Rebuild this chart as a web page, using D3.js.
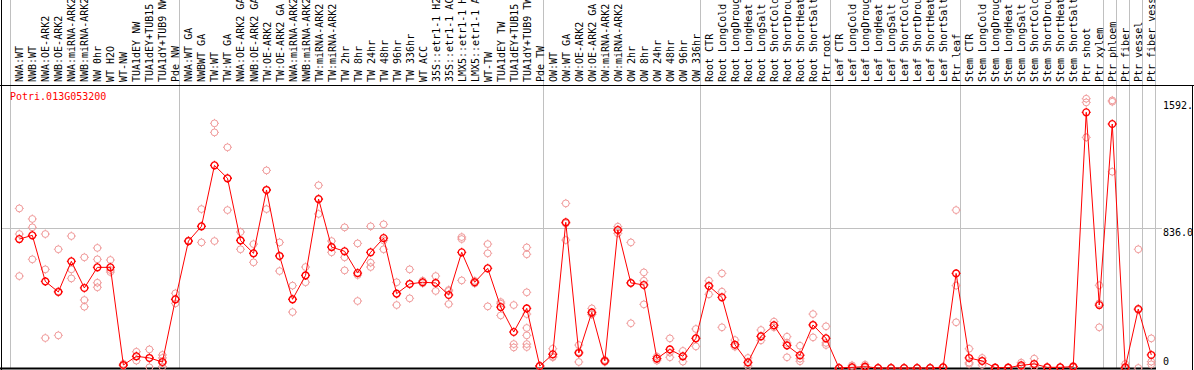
<!DOCTYPE html>
<html>
<head>
<meta charset="utf-8">
<script src="https://cdn.jsdelivr.net/npm/d3@7"></script>
<style>
  html, body { margin: 0; padding: 0; background: #fff; }
  svg { display: block; }
  text { font-family: "DejaVu Sans Mono", monospace; font-size: 10px; }
</style>
</head>
<body>
<div id="chart"></div>
<script>
const samples = [
  "NWA:WT", "NWB:WT", "NWA:OE-ARK2", "NWB:OE-ARK2", "NWA:miRNA-ARK2", "NWB:miRNA-ARK2",
  "NW 0hr", "WT H2O", "WT-NW", "TUA1dEY NW", "TUA1dEY+TUB15", "TUA1dY+TUB9 NW", "Pde NW",
  "NWA:WT GA", "NWBWT GA", "TW:WT", "TW:WT GA", "NWA:OE-ARK2 GA", "NWB:OE-ARK2 GA",
  "TW:OE-ARK2", "TW:OE-ARK2 GA", "NWA:miRNA-ARK2", "NWB:miRNA-ARK2", "TW:miRNA-ARK2",
  "TW:miRNA-ARK2", "TW 2hr", "TW 8hr", "TW 24hr", "TW 48hr", "TW 96hr", "TW 336hr", "WT ACC",
  "35S::etr1-1 H2O", "35S::etr1-1 ACC", "LMX5::etr1-1 H2O", "LMX5::etr1-1 ACC", "WT-TW",
  "TUA1dEY TW", "TUA1dEY+TUB15", "TUA1dY+TUB9 TW", "Pde TW",
  "OW:WT", "OW:WT GA", "OW:OE-ARK2", "OW:OE-ARK2 GA", "OW:miRNA-ARK2", "OW:miRNA-ARK2",
  "OW 2hr", "OW 8hr", "OW 24hr", "OW 48hr", "OW 96hr", "OW 336hr",
  "Root CTR", "Root LongCold", "Root LongDrought", "Root LongHeat", "Root LongSalt",
  "Root ShortCold", "Root ShortDrought", "Root ShortHeat", "Root ShortSalt", "Ptr root",
  "Leaf CTR", "Leaf LongCold", "Leaf LongDrought", "Leaf LongHeat", "Leaf LongSalt",
  "Leaf ShortCold", "Leaf ShortDrought", "Leaf ShortHeat", "Leaf ShortSalt", "Ptr leaf",
  "Stem CTR", "Stem LongCold", "Stem LongDrought", "Stem LongHeat", "Stem LongSalt",
  "Stem ShortCold", "Stem ShortDrought", "Stem ShortHeat", "Stem ShortSalt",
  "Ptr shoot", "Ptr xylem", "Ptr phloem", "Ptr fiber", "Ptr vessel", "Ptr fiber vessel"
];

const means = [
  770, 792, 517, 454, 637, 478, 601, 601, 18, 70, 60, 36, 410,
  758, 846, 1210, 1133, 762, 685, 1063, 669, 410, 553, 1009, 722, 697, 567, 691, 776,
  444, 502, 512, 508, 436, 691, 512, 595, 364, 215, 356, 12,
  82, 870, 90, 332, 42, 824, 508, 496, 56, 111, 70, 177,
  490, 422, 139, 34, 189, 255, 135, 76, 257, 177,
  0, 4, 8, 0, 0, 0, 0, 0, 4, 565,
  60, 42, 2, 2, 16, 24, 4, 4, 8, 1527, 376,
  1457, 4, 352, 78
];

const replicates = [
  [953, 800, 549], [890, 840, 649], [800, 589, 179], [709, 458, 195], [788, 589, 535],
  [661, 406, 366], [717, 649, 509, 482], [645, 585, 573], [25, 15, 14], [97, 70, 44],
  [111, 60, 4], [78, 60, 29, 8], [446, 410, 386],
  [760, 755, 760], [949, 846, 750], [1461, 1407, 758], [1318, 1133, 943], [812, 762, 709],
  [740, 685, 631], [1180, 1063, 949], [750, 669, 579], [492, 410, 334], [603, 553, 512],
  [1091, 1009, 920], [758, 722, 691], [840, 661, 583], [744, 555, 400], [846, 629, 603],
  [858, 762, 709], [512, 444, 376], [589, 502, 416], [521, 512, 506], [549, 508, 460],
  [466, 460, 382], [782, 770, 523], [520, 512, 505], [740, 685, 368], [394, 384, 314],
  [376, 143, 123], [720, 679, 452, 322, 239, 195, 143, 125], [14, 10, 12],
  [115, 68, 64], [983, 863, 764], [137, 96, 36], [356, 322, 320], [48, 42, 36],
  [844, 824, 804], [750, 508, 267], [571, 521, 380], [68, 56, 44], [177, 92, 64],
  [102, 70, 38], [233, 177, 129],
  [521, 490, 440], [565, 456, 243], [167, 139, 127], [60, 30, 12], [227, 189, 165],
  [277, 255, 243], [187, 150, 64], [133, 56, 40], [322, 257, 183], [249, 150, 137],
  [0, 0, 2], [16, 0, 2], [20, 4, 0], [0, 0, 0], [0, 2, 0], [0, 0, 0], [0, 0, 0],
  [0, 0, 2], [6, 4, 2], [943, 492, 273],
  [115, 32, 24], [60, 42, 18], [2, 2, 0], [2, 0, 4], [32, 8, 8], [56, 8, 8], [4, 2, 6],
  [4, 4, 2], [12, 8, 4], [1608, 1586, 1377], [494, 386, 243],
  [1598, 1590, 1172], [24, 0, 0], [709, 347, 0], [177, 38, 22]
];

// sample index where each group starts (last = end)
const groupBreaks = [0, 13, 41, 53, 63, 73, 84, 85, 86, 87, 88];
const yTicks = [0, 836, 1592];
const yTickLabels = ["0", "836.0", "1592."];
const geneId = "Potri.013G053200";

const width = 1194;
const height = 370;
const headerBottom = 85;
const plotRight = 1155;

const svg = d3.select("#chart")
  .append("svg")
  .attr("width", width)
  .attr("height", height);

const slot = d3.scaleLinear().domain([0, samples.length]).range([10, plotRight]);
const px = (i) => slot(i + 0.715);
const y = d3.scaleLinear().domain([0, 836]).range([368, 228]);

// group separators (run through header too)
svg.append("g")
  .selectAll("line")
  .data(groupBreaks)
  .join("line")
  .attr("x1", (d) => Math.round(slot(d)) + 0.5)
  .attr("x2", (d) => Math.round(slot(d)) + 0.5)
  .attr("y1", 0)
  .attr("y2", 368)
  .attr("stroke", "#c0c0c0")
  .attr("stroke-width", 1);

// horizontal gridline at the middle tick
svg.append("line")
  .attr("x1", 1)
  .attr("x2", 1162)
  .attr("y1", Math.round(y(yTicks[1])) + 0.5)
  .attr("y2", Math.round(y(yTicks[1])) + 0.5)
  .attr("stroke", "#c0c0c0");

// frame
svg.append("line").attr("x1", 0).attr("x2", width).attr("y1", headerBottom + 0.5).attr("y2", headerBottom + 0.5).attr("stroke", "#000");
svg.append("line").attr("x1", 1.5).attr("x2", 1.5).attr("y1", 0).attr("y2", height).attr("stroke", "#000");
svg.append("line").attr("x1", 0).attr("x2", plotRight + 1).attr("y1", 368.5).attr("y2", 368.5).attr("stroke", "#000").attr("stroke-width", 2);
svg.append("line").attr("x1", 1192.5).attr("x2", 1192.5).attr("y1", headerBottom).attr("y2", height).attr("stroke", "#000");

// sample labels, rotated
svg.append("g")
  .selectAll("text")
  .data(samples)
  .join("text")
  .attr("transform", (d, i) => `translate(${px(i) + 4},82) rotate(-90)`)
  .attr("fill", "#000")
  .text((d) => d);

// marker: circle with four small ticks
const r = 3.4;
const t = 1.1;
const markerPath = `M${r},0A${r},${r} 0 1,1 ${-r},0A${r},${r} 0 1,1 ${r},0` +
  `M0,${-r}V${-r - t}M0,${r}V${r + t}M${-r},0H${-r - t}M${r},0H${r + t}`;

const reps = replicates.flatMap((vals, i) => vals.map((v) => ({ i, v })));

svg.append("g")
  .selectAll("path")
  .data(reps)
  .join("path")
  .attr("transform", (d) => `translate(${px(d.i)},${y(d.v)})`)
  .attr("d", markerPath)
  .attr("fill", "none")
  .attr("stroke", "#f09a9a")
  .attr("stroke-width", 1);

svg.append("path")
  .datum(means)
  .attr("d", d3.line().x((d, i) => px(i)).y((d) => y(d)))
  .attr("fill", "none")
  .attr("stroke", "#ff0000")
  .attr("stroke-width", 1);

svg.append("g")
  .selectAll("path")
  .data(means)
  .join("path")
  .attr("transform", (d, i) => `translate(${px(i)},${y(d)})`)
  .attr("d", markerPath)
  .attr("fill", "none")
  .attr("stroke", "#ff0000")
  .attr("stroke-width", 1.3);

// y tick labels on the right
svg.append("g")
  .selectAll("text")
  .data(yTicks)
  .join("text")
  .attr("x", 1163)
  .attr("y", (d) => d === 0 ? y(d) - 3 : y(d) + 8)
  .attr("fill", "#000")
  .text((d, i) => yTickLabels[i]);

svg.append("text")
  .attr("x", 10)
  .attr("y", 100)
  .attr("fill", "#ff0000")
  .text(geneId);
</script>
</body>
</html>
